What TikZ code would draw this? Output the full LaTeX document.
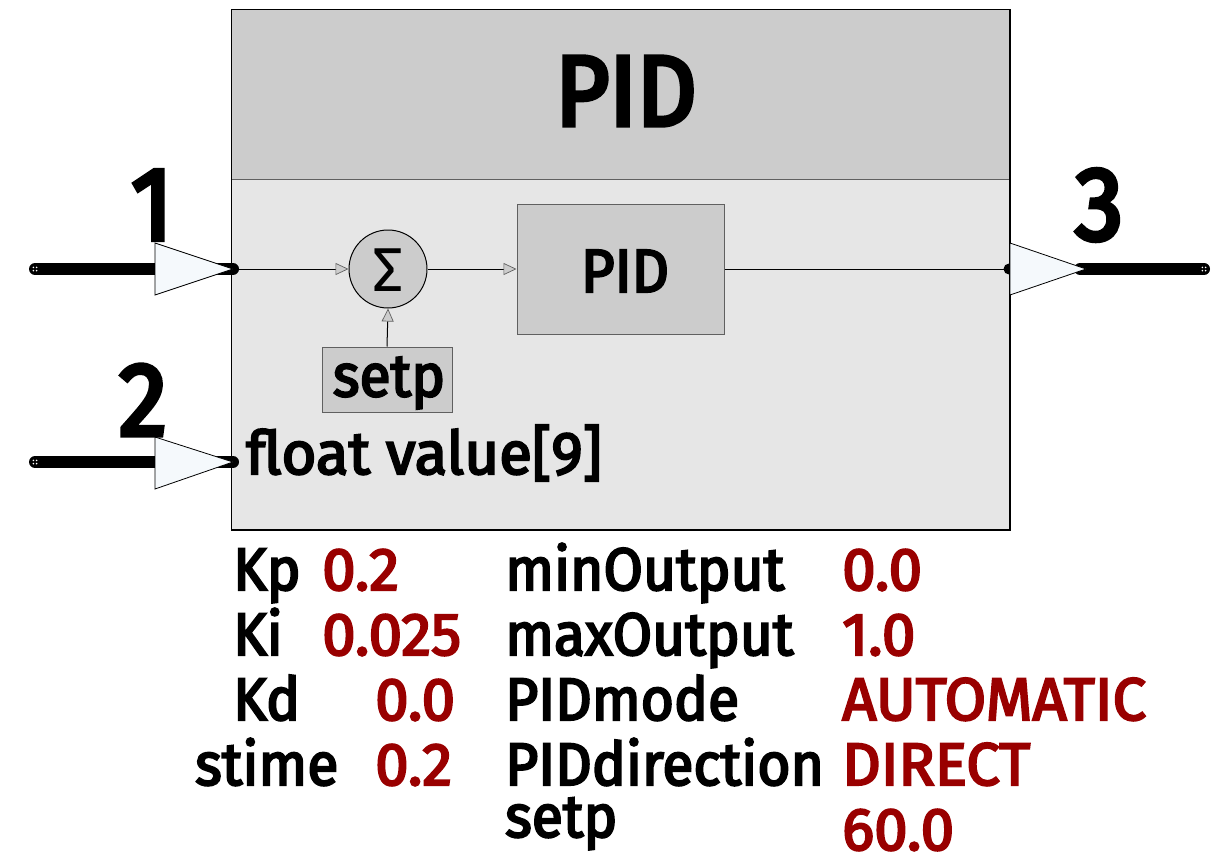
\documentclass[tikz,border=0pt]{standalone}
\usepackage{fontspec}
\setmainfont{Fira Sans}
\newfontfamily\heavy{Fira Sans}[FakeBold=3.5, FakeStretch=0.95]
\newfontfamily\heavyv{Fira Sans}[FakeBold=3.5, FakeStretch=1.0]
\newfontfamily\heavyw{Fira Sans}[FakeBold=3.5, FakeStretch=1.0]
\newfontfamily\heavybig{Fira Sans}[FakeBold=4.5, FakeStretch=0.93]
\usetikzlibrary{arrows.meta,calc}
\definecolor{hdr}{HTML}{CCCCCC}
\definecolor{bdy}{HTML}{E6E6E6}
\definecolor{parred}{HTML}{990000}
\definecolor{trifill}{HTML}{F5F9FC}
\definecolor{edgegray}{HTML}{606060}
\tikzset{
  portline/.style={line width=12pt, line cap=round},
  porttri/.style={fill=trifill, draw=black, line width=0.8pt},
  sigline/.style={line width=1pt, -{Triangle[length=13pt,width=12pt,fill=hdr,color=edgegray,line width=0.7pt]}},
  plainline/.style={line width=1pt},
  big/.style={inner sep=0, font=\heavybig\fontsize{104}{110}\selectfont},
  txt/.style={inner sep=0, font=\heavy\fontsize{60}{64}\selectfont},
  partxt/.style={inner sep=0, anchor=base west, font=\heavy\fontsize{60}{64}\selectfont},
  parval/.style={inner sep=0, anchor=base west, text=parred, font=\heavyv\fontsize{60}{64}\selectfont},
  subbox/.style={draw=edgegray, fill=hdr, line width=1pt, inner sep=0},
  pdot/.style={fill=white, draw=none}
}
\begin{document}
\begin{tikzpicture}[x=1pt,y=-1pt]
\useasboundingbox (0,0) rectangle (1222,861);
% block
\node[draw=black, fill=bdy, line width=1pt, inner sep=0, anchor=north west,
      minimum width=778pt, minimum height=519pt] (blk) at (231,10) {};
\fill[hdr] (231.5,10.5) rectangle (1008.5,180);
\draw[edgegray, line width=1pt] (231,180) -- (1009,180);
\draw[black, line width=1pt] (blk.north west) rectangle (blk.south east);
\node[inner sep=0, font=\heavybig\fontsize{100}{104}\selectfont] (title) at (626,91) {PID};

% ports coordinates
\coordinate (in1s) at (35,269);
\coordinate (in1) at (233,269);
\coordinate (in2s) at (35,462);
\coordinate (in2) at (233,462);
\coordinate (out) at (1009,269);
\coordinate (outs) at (1080,269);
\coordinate (oute) at (1204,269);

% input 1
\draw[portline] (in1s) -- (in1);
\fill[porttri] (155,243) -- (233,269) -- (155,295) -- cycle;
\foreach \dx/\dy in {-1.6/-1.6,1.6/-1.6,-1.6/1.6,1.6/1.6}
  \fill[pdot] ($(in1s)+(\dx,\dy)$) circle (0.9);
\node[big] (n1) at (152,205) {1};

% input 2
\draw[portline] (in2s) -- (in2);
\fill[porttri] (155,437) -- (233,462) -- (155,489) -- cycle;
\foreach \dx/\dy in {-1.6/-1.6,1.6/-1.6,-1.6/1.6,1.6/1.6}
  \fill[pdot] ($(in2s)+(\dx,\dy)$) circle (0.9);
\node[big] (n2) at (143,400) {2};

% output
\fill[black] (out) circle (5.5);
\draw[portline] (outs) -- (oute);
\fill[porttri] (1010,243) -- (1086,269) -- (1010,295) -- cycle;
\foreach \dx/\dy in {-1.6/-1.6,1.6/-1.6,-1.6/1.6,1.6/1.6}
  \fill[pdot] ($(oute)+(\dx,\dy)$) circle (0.9);
\node[big] (n3) at (1099,205) {3};

% inner blocks
\node[circle, draw=black, fill=hdr, line width=1pt, minimum size=78pt, inner sep=0] (sum) at (388,269) {};
\node[inner sep=0, font=\fontsize{62}{64}\selectfont] (sig) at (388,270) {Σ};
\node[subbox, minimum width=130pt, minimum height=65pt] (setp) at (387,379.5) {};
\node[txt] (setptxt) at (389,383) {setp};
\node[subbox, minimum width=207pt, minimum height=130pt] (pid) at (620.5,269) {};
\node[inner sep=0, font=\heavy\fontsize{61}{64}\selectfont] (pidtxt) at (625,271) {PID};

\draw[sigline] (in1) -- (sum.west);
\draw[sigline] (setp.north) -- (sum.south);
\draw[sigline] (sum.east) -- (pid.west);
\draw[plainline] (pid.east) -- (out);

\node[inner sep=0, anchor=base west, font=\heavyw\fontsize{60}{64}\selectfont] (fv) at (246,474) {float value[9]};

% parameters
\node[partxt] (kp) at (233,590) {Kp};
\node[parval] (kpv) at (322,590) {0.2};
\node[partxt] (ki) at (233,655) {Ki};
\node[parval] (kiv) at (322,655) {0.025};
\node[partxt] (kd) at (233,720) {Kd};
\node[parval] (kdv) at (375,720) {0.0};
\node[partxt] (st) at (195,785) {stime};
\node[parval] (stv) at (375,785) {0.2};

\node[partxt] (mino) at (505,590) {minOutput};
\node[partxt] (maxo) at (505,655) {maxOutput};
\node[partxt] (pm) at (505,720) {PIDmode};
\node[partxt] (pd) at (505,785) {PIDdirection};
\node[partxt] (sp) at (505,837) {setp};

\node[parval] (minv) at (842,590) {0.0};
\node[parval] (maxv) at (842,655) {1.0};
\node[parval] (pmv) at (842,720) {AUTOMATIC};
\node[parval] (pdv) at (842,785) {DIRECT};
\node[parval] (spv) at (842,850) {60.0};
\end{tikzpicture}
\end{document}
